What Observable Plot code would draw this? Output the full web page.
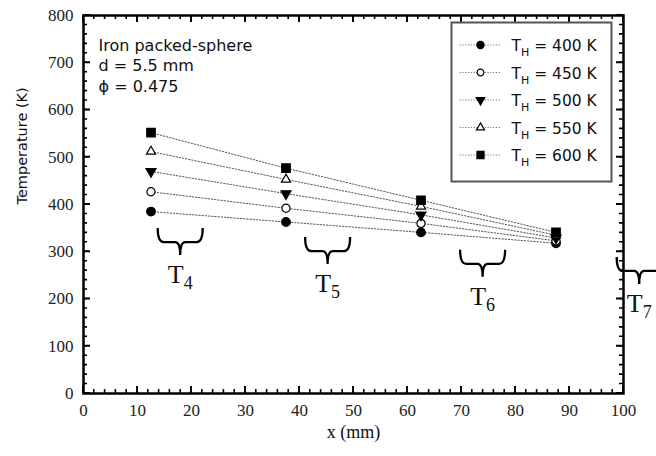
<!DOCTYPE html>
<html><head><meta charset="utf-8">
<script src="https://cdn.jsdelivr.net/npm/d3@7"></script>
<script src="https://cdn.jsdelivr.net/npm/@observablehq/plot@0.6"></script>
<style>
body{margin:0;background:#fff;}
#chart svg{display:block;}
</style></head><body><div id="chart"></div>
<script>
// ---- data ----
const xPos = [12.5, 37.5, 62.5, 87.5];
const seriesLabels = ["400 K", "450 K", "500 K", "550 K", "600 K"];
const T400 = [385, 363, 341, 318];
const T450 = [427, 392, 360, 323];
const T500 = [470, 423, 378, 329];
const T550 = [512, 453, 396, 335];
const T600 = [552, 477, 409, 341];
const xTicks = [0, 10, 20, 30, 40, 50, 60, 70, 80, 90, 100];
const yTicks = [0, 100, 200, 300, 400, 500, 600, 700, 800];
const annotationLines = ["Iron packed-sphere", "d = 5.5 mm", "ϕ = 0.475"];
const braceLabels = ["4", "5", "6", "7"];
const braceX = [18, 45.3, 74, 103];
const braceTop = [349, 330, 303, 288];

// ---- styles ----
const seriesValues = [T400, T450, T500, T550, T600];
const symbols = ["circle", "circle", "triangle", "triangle", "square"];
const d3Symbols = [d3.symbolCircle, d3.symbolCircle, d3.symbolTriangle, d3.symbolTriangle, d3.symbolSquare];
const fills = ["black", "white", "black", "white", "black"];
const rotations = [0, 0, 180, 0, 0];
const radii = [4.3, 4.1, 3.7, 3.4, 4.8];
const legendRadii = [3.6, 3.4, 3.2, 3.0, 4.0];

const rows = seriesLabels.flatMap((s, i) => xPos.map((x, j) => ({series: s, i, x, y: seriesValues[i][j]})));

const xMinor = d3.range(0, 101, 2);
const yMinor = d3.range(0, 801, 20);
const SANS = "DejaVu Sans, sans-serif";
const SERIF = "Liberation Serif, Times New Roman, serif";

function ticksMark(index, scales, values, dims) {
  const g = d3.create("svg:g");
  const x0 = dims.marginLeft, x1 = dims.width - dims.marginRight;
  const y0 = dims.marginTop, y1 = dims.height - dims.marginBottom;
  let d = "";
  const addX = (vals, len) => vals.forEach(v => {
    const px = scales.x(v);
    d += `M${px},${y1}V${y1 - len}M${px},${y0}V${y0 + len}`;
  });
  const addY = (vals, len) => vals.forEach(v => {
    const py = scales.y(v);
    d += `M${x0},${py}H${x0 + len}M${x1},${py}H${x1 - len}`;
  });
  addX(xMinor, 4); addY(yMinor, 4);
  g.append("path").attr("d", d).attr("fill", "none").attr("stroke", "black").attr("stroke-width", 1.6);
  d = "";
  addX(xTicks, 7); addY(yTicks, 7);
  g.append("path").attr("d", d).attr("fill", "none").attr("stroke", "black").attr("stroke-width", 2);
  return g.node();
}

function legendMark(index, scales, values, dims) {
  const g = d3.create("svg:g");
  const right = dims.width - dims.marginRight - 11.5;
  const left = right - 160;
  const top = dims.marginTop + 7.5;
  g.append("rect").attr("x", left).attr("y", top).attr("width", 160).attr("height", 159)
    .attr("fill", "white").attr("stroke", "#555").attr("stroke-width", 2);
  seriesLabels.forEach((s, i) => {
    const cy = top + 22.5 + 27.5 * i;
    g.append("line").attr("x1", left + 8).attr("x2", left + 50).attr("y1", cy).attr("y2", cy)
      .attr("stroke", "#777").attr("stroke-width", 1).attr("stroke-dasharray", "1.2,1.6");
    g.append("path")
      .attr("d", d3.symbol(d3Symbols[i], Math.PI * legendRadii[i] ** 2)())
      .attr("transform", `translate(${left + 29},${cy}) rotate(${rotations[i]})`)
      .attr("fill", fills[i]).attr("stroke", "black").attr("stroke-width", 1.2);
    const t = g.append("text").attr("x", left + 60).attr("y", cy + 6).attr("text-anchor", "start")
      .attr("font-family", SANS).attr("font-size", 15.5).attr("fill", "#111");
    t.append("tspan").text("T");
    t.append("tspan").attr("dy", 5).attr("font-size", 11).text("H");
    t.append("tspan").attr("dy", -5).text(" = " + s);
  });
  return g.node();
}

function bracesMark(index, scales, values, dims) {
  const g = d3.create("svg:g");
  const w = 45, h = 27, a = 14;
  braceLabels.forEach((lab, i) => {
    const cx = scales.x(braceX[i]);
    const ty = scales.y(braceTop[i]);
    const p = `M${-w/2},0 Q${-w/2},${a} ${-w/2+6},${a} L${-5},${a} Q0,${a} 0,${h} Q0,${a} 5,${a} L${w/2-6},${a} Q${w/2},${a} ${w/2},0`;
    g.append("path").attr("d", p).attr("transform", `translate(${cx},${ty})`)
      .attr("fill", "none").attr("stroke", "black").attr("stroke-width", 2.3);
    const t = g.append("text").attr("x", cx).attr("y", ty + h + 28)
      .attr("text-anchor", "middle").attr("font-family", SERIF).attr("font-size", 26).attr("fill", "#111");
    t.append("tspan").text("T");
    t.append("tspan").attr("dy", 6).attr("font-size", 18).text(lab);
  });
  return g.node();
}

const seriesMarks = seriesLabels.flatMap((s, i) => {
  const d = rows.filter(r => r.i === i);
  return [
    Plot.line(d, {x: "x", y: "y", stroke: "#555", strokeWidth: 1, strokeDasharray: "1.4,1.8"}),
    Plot.dot(d, {x: "x", y: "y", symbol: () => symbols[i], fill: fills[i], stroke: "black", strokeWidth: 1.2, r: radii[i], rotate: rotations[i]})
  ];
});

const chart = Plot.plot({
  width: 656,
  height: 456,
  marginTop: 15,
  marginRight: 33,
  marginBottom: 63,
  marginLeft: 83,
  x: {domain: [0, 100]},
  y: {domain: [0, 800]},
  style: {background: "white"},
  marks: [
    // tick labels
    Plot.axisX({ticks: xTicks, tickSize: 0, tickPadding: 10, label: null, fontFamily: SERIF, fontSize: 17, fill: "#222"}),
    Plot.axisY({ticks: yTicks, tickSize: 0, tickPadding: 10, label: null, fontFamily: SERIF, fontSize: 17, fill: "#222"}),
    Plot.frame({stroke: "black", fill: "none", strokeWidth: 2.5}),
    ticksMark,
    // axis titles
    Plot.text(["Temperature (K)"], {frameAnchor: "left", dx: -61, rotate: -90, fontFamily: SANS, fontSize: 14.5, fill: "#111"}),
    Plot.text(["x (mm)"], {frameAnchor: "bottom", dy: 44, fontFamily: SERIF, fontSize: 18, fill: "#111"}),
    // annotation
    Plot.text([annotationLines.join("\n")], {frameAnchor: "top-left", dx: 15, dy: 20.5, lineAnchor: "top", textAnchor: "start", lineHeight: 1.28, fontFamily: SANS, fontSize: 16, fill: "#111"}),
    ...seriesMarks,
    bracesMark,
    legendMark
  ]
});
document.getElementById("chart").append(chart);
</script>
</body></html>
